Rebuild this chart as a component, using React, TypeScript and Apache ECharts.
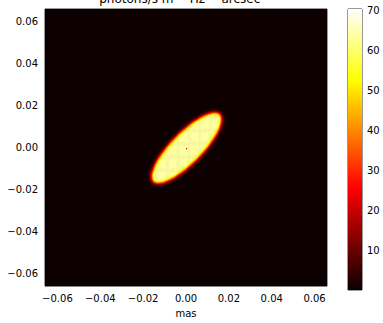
import React, { useEffect, useRef } from "react";
import * as echarts from "echarts";

// ---- data ----
const AXIS_RANGE = [-0.0658, 0.0658];
const AXIS_TICKS = [-0.06, -0.04, -0.02, 0.0, 0.02, 0.04, 0.06];
const CB_RANGE = [0.2, 70.35];
const CB_TICKS = [10, 20, 30, 40, 50, 60, 70];
const GRID_N = [256];
const ELLIPSE_CENTER = [0.0003, 0.0];
const ELLIPSE_SEMI_AXES = [0.0222, 0.0072];
const ELLIPSE_ANGLE_DEG = [46];
const EDGE_SOFTNESS = [0.0005];
const LEVELS = { background: 0.3, plateau: 64, centre: 22 };
const TITLE = "photons/s m{s|−2} Hz{s|−1} arcsec{s|−2}";
const X_NAME = "mas";

function hot(t: number): string {
  t = Math.max(0, Math.min(1, t));
  const r = t < 0.365079 ? 0.0416 + (t / 0.365079) * (1 - 0.0416) : 1;
  const g = t < 0.365079 ? 0 : t < 0.746032 ? (t - 0.365079) / (0.746032 - 0.365079) : 1;
  const b = t < 0.746032 ? 0 : (t - 0.746032) / (1 - 0.746032);
  const h = (v: number) => Math.round(v * 255).toString(16).padStart(2, "0");
  return "#" + h(r) + h(g) + h(b);
}

function buildImage() {
  const n = GRID_N[0];
  const span = AXIS_RANGE[1] - AXIS_RANGE[0];
  const cell = span / n;
  const [cx, cy] = ELLIPSE_CENTER;
  const [a, b] = ELLIPSE_SEMI_AXES;
  const th = (ELLIPSE_ANGLE_DEG[0] * Math.PI) / 180;
  const ct = Math.cos(th), st = Math.sin(th);
  const s = EDGE_SOFTNESS[0];
  const out: number[][] = [];
  let best = Infinity, bestIdx = -1;
  for (let i = 0; i < n; i++) {
    const x = AXIS_RANGE[0] + (i + 0.5) * cell;
    for (let j = 0; j < n; j++) {
      const y = AXIS_RANGE[0] + (j + 0.5) * cell;
      const dx = x - cx, dy = y - cy;
      const u = dx * ct + dy * st;
      const w = -dx * st + dy * ct;
      const r = Math.sqrt((u / a) ** 2 + (w / b) ** 2);
      const g = Math.sqrt((u / (a * a)) ** 2 + (w / (b * b)) ** 2) / Math.max(r, 1e-9);
      const d = (r - 1) / Math.max(g, 1e-9);
      const v = LEVELS.background + (LEVELS.plateau - LEVELS.background) / (1 + Math.exp(d / s));
      if (v > 0.8) {
        out.push([x, y, v]);
        const dd = dx * dx + dy * dy;
        if (dd < best) { best = dd; bestIdx = out.length - 1; }
      }
    }
  }
  if (bestIdx >= 0) out[bestIdx][2] = LEVELS.centre;
  return { out, cell };
}

const COLORS = Array.from({ length: 65 }, (_, k) => hot(k / 64));

export default function App() {
  const ref = useRef<HTMLDivElement>(null);
  useEffect(() => {
    if (!ref.current) return;
    const chart = echarts.init(ref.current, undefined, { renderer: "svg" });
    const { out, cell } = buildImage();
    const font = "DejaVu Sans";
    const fmt = (v: number) => (v < 0 ? "−" : "") + Math.abs(v).toFixed(2);
    const bgColor = hot((LEVELS.background - CB_RANGE[0]) / (CB_RANGE[1] - CB_RANGE[0]));
    const gradStops = COLORS.map((c, k) => ({ offset: k / 64, color: c }));

    chart.setOption({
      animation: false,
      backgroundColor: "#fff",
      textStyle: { fontFamily: font },
      grid: [
        { left: 45, top: 9, width: 282, height: 281, show: true, backgroundColor: bgColor, borderColor: "#000", borderWidth: 0.8 },
        { left: 348, top: 9, width: 14, height: 281, show: true, borderColor: "#000", borderWidth: 0.8 },
      ],
      xAxis: [
        {
          type: "value", gridIndex: 0, min: AXIS_RANGE[0], max: AXIS_RANGE[1],
          name: X_NAME, nameLocation: "middle", nameGap: 18,
          nameTextStyle: { fontFamily: font, fontSize: 10, color: "#000" },
          axisLine: { show: false }, splitLine: { show: false },
          axisTick: { show: true, length: 3.5, lineStyle: { color: "#000", width: 0.8 }, customValues: AXIS_TICKS },
          axisLabel: { show: true, margin: 7, fontFamily: font, fontSize: 10, color: "#000", customValues: AXIS_TICKS, formatter: fmt },
        },
        { type: "value", gridIndex: 1, min: 0, max: 1, show: false },
      ],
      yAxis: [
        {
          type: "value", gridIndex: 0, min: AXIS_RANGE[0], max: AXIS_RANGE[1],
          axisLine: { show: false }, splitLine: { show: false },
          axisTick: { show: true, length: 3.5, lineStyle: { color: "#000", width: 0.8 }, customValues: AXIS_TICKS },
          axisLabel: { show: true, margin: 7, fontFamily: font, fontSize: 10, color: "#000", customValues: AXIS_TICKS, formatter: fmt },
        },
        {
          type: "value", gridIndex: 1, position: "right", min: CB_RANGE[0], max: CB_RANGE[1],
          axisLine: { show: false }, splitLine: { show: false },
          axisTick: { show: true, length: 3.5, lineStyle: { color: "#000", width: 0.8 }, customValues: CB_TICKS },
          axisLabel: { show: true, margin: 5, fontFamily: font, fontSize: 10, color: "#000", customValues: CB_TICKS, formatter: (v: number) => String(Math.round(v)) },
        },
      ],
      visualMap: {
        type: "continuous", show: false, seriesIndex: 0, dimension: 2,
        min: CB_RANGE[0], max: CB_RANGE[1], inRange: { color: COLORS },
      },
      graphic: [
        {
          type: "text", x: 186, y: -1, silent: true,
          style: {
            text: TITLE, fontFamily: font, fontSize: 12, fill: "#000",
            align: "center", verticalAlign: "middle",
            rich: { s: { fontSize: 8.5, verticalAlign: "top", padding: [0, 0, 6, 0], fontFamily: font, fill: "#000" } },
          },
        },
      ],
      series: [
        {
          type: "custom", xAxisIndex: 0, yAxisIndex: 0, silent: true,
          dimensions: ["x", "y", "v"], encode: { x: 0, y: 1 },
          data: out,
          renderItem: (params: any, api: any) => {
            const p = api.coord([api.value(0) - cell / 2, api.value(1) + cell / 2]);
            const s = api.size([cell, cell]);
            return {
              type: "rect",
              shape: { x: p[0], y: p[1], width: s[0] + 0.5, height: s[1] + 0.5 },
              style: { fill: api.visual("color") },
            };
          },
        },
        {
          type: "custom", xAxisIndex: 1, yAxisIndex: 1, silent: true,
          data: [[0.5, 35]],
          renderItem: (params: any) => {
            const cs = params.coordSys;
            return {
              type: "rect",
              shape: { x: cs.x, y: cs.y, width: cs.width, height: cs.height },
              style: { fill: new echarts.graphic.LinearGradient(0, 1, 0, 0, gradStops) },
            };
          },
        },
      ],
    });
    return () => chart.dispose();
  }, []);
  return <div ref={ref} style={{ position: "absolute", left: 0, top: 0, width: 383, height: 323 }} />;
}
